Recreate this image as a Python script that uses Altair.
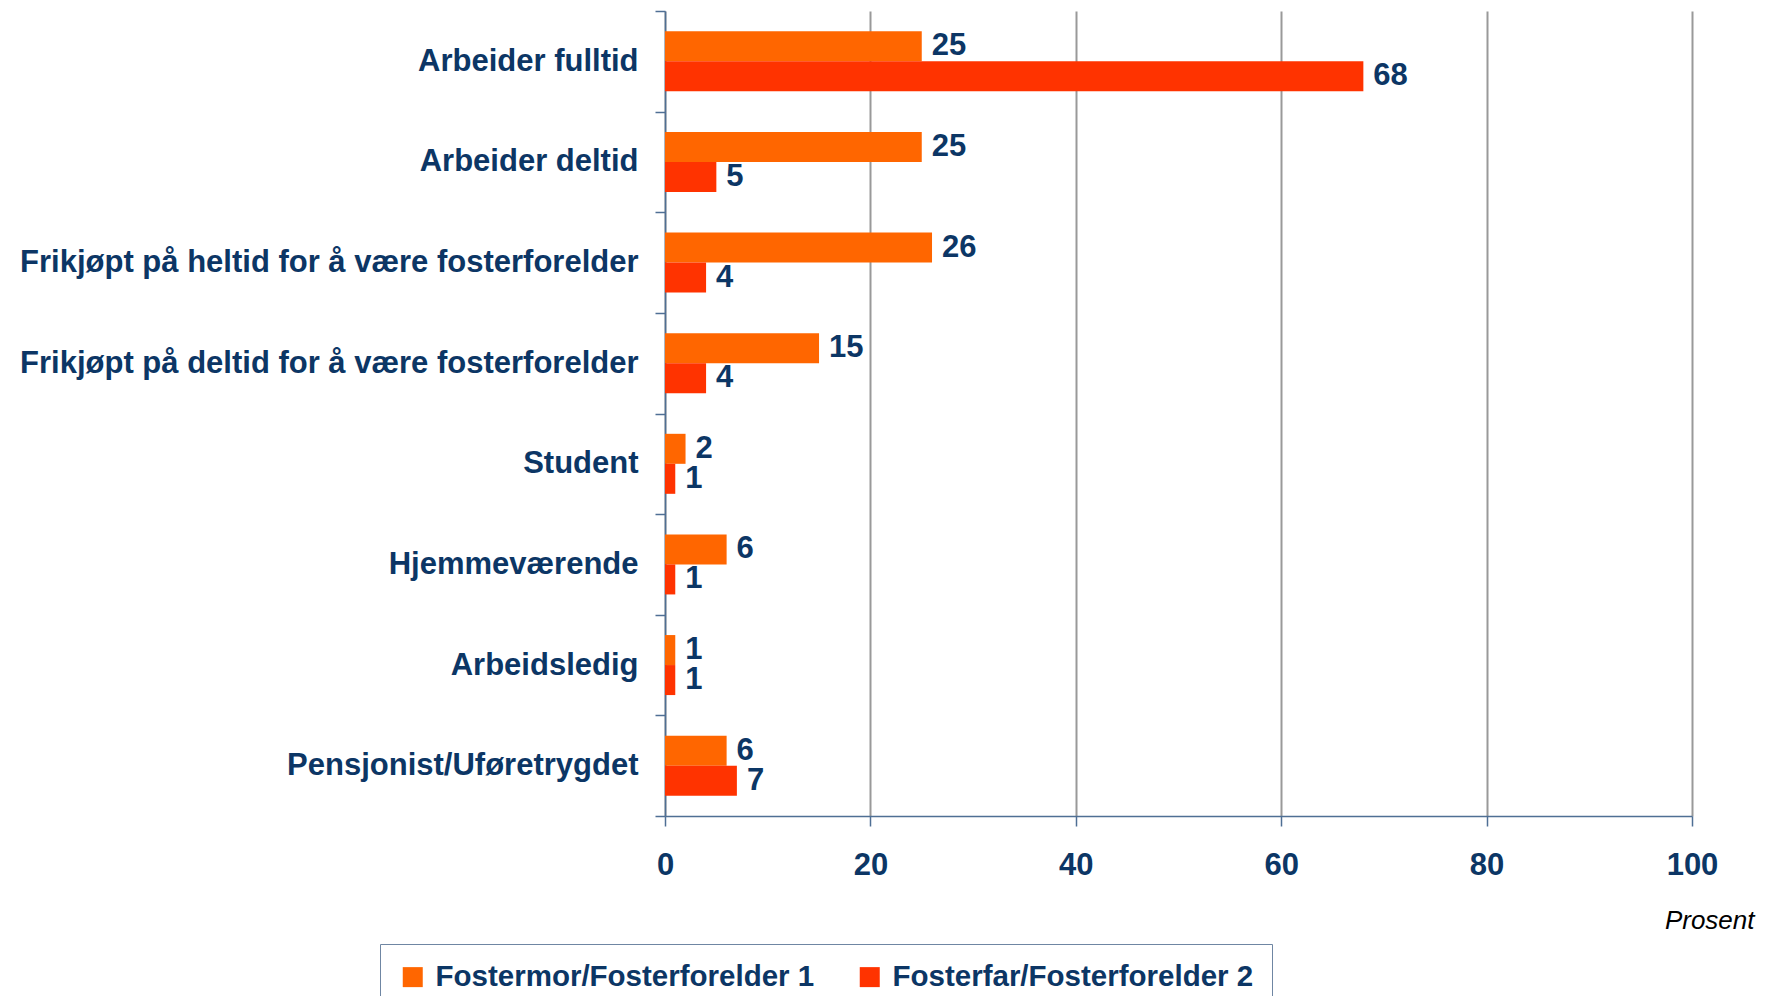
import altair as alt
import pandas as pd

categories = [
    "Arbeider fulltid",
    "Arbeider deltid",
    "Frikjøpt på heltid for å være fosterforelder",
    "Frikjøpt på deltid for å være fosterforelder",
    "Student",
    "Hjemmeværende",
    "Arbeidsledig",
    "Pensjonist/Uføretrygdet",
]
series = ["Fostermor/Fosterforelder 1", "Fosterfar/Fosterforelder 2"]
fostermor = [25, 25, 26, 15, 2, 6, 1, 6]
fosterfar = [68, 5, 4, 4, 1, 1, 1, 7]
x_ticks = [0, 20, 40, 60, 80, 100]
colors = ["#FF6600", "#FF3300"]

NAVY = "#0c3665"
AXIS = "#4f6f94"
FONT = "Liberation Sans, Arial, sans-serif"

rows = []
for c, a, b in zip(categories, fostermor, fosterfar):
    rows.append({"Kategori": c, "Serie": series[0], "Verdi": a})
    rows.append({"Kategori": c, "Serie": series[1], "Verdi": b})
df = pd.DataFrame(rows)

base = alt.Chart(df).encode(
    y=alt.Y(
        "Kategori:N",
        sort=categories,
        scale=alt.Scale(paddingInner=0, paddingOuter=0),
        axis=alt.Axis(
            title=None,
            tickBand="extent",
            tickSize=10,
            tickColor=AXIS,
            tickWidth=1.5,
            domainColor=AXIS,
            domainWidth=1.5,
            labelFont=FONT,
            labelFontSize=31,
            labelFontWeight="bold",
            labelColor=NAVY,
            labelPadding=17,
            labelLimit=0,
            grid=False,
        ),
    ),
    yOffset=alt.YOffset(
        "Serie:N", sort=series, scale=alt.Scale(paddingInner=0, paddingOuter=0.677)
    ),
    x=alt.X(
        "Verdi:Q",
        scale=alt.Scale(domain=[0, 100]),
        axis=alt.Axis(
            values=x_ticks,
            title="Prosent",
            titleFont=FONT,
            titleFontSize=26,
            titleFontStyle="italic",
            titleFontWeight="normal",
            titleColor="#000000",
            titleAlign="right",
            titleBaseline="middle",
            titleX=1089,
            titleY=104,
            grid=True,
            gridColor="#999999",
            gridWidth=2,
            tickSize=10,
            tickColor=AXIS,
            tickWidth=1.5,
            domainColor=AXIS,
            domainWidth=1.5,
            labelFont=FONT,
            labelFontSize=31,
            labelFontWeight="bold",
            labelColor=NAVY,
            labelPadding=24,
            labelFlush=False,
        ),
    ),
)

bars = base.mark_bar().encode(
    color=alt.Color(
        "Serie:N",
        sort=series,
        scale=alt.Scale(domain=series, range=colors),
        legend=alt.Legend(
            title=None,
            orient="none",
            direction="horizontal",
            legendX=-285,
            legendY=933,
            symbolType="square",
            symbolSize=400,
            symbolStrokeWidth=0,
            labelFont=FONT,
            labelFontSize=29.5,
            labelFontWeight="bold",
            labelColor=NAVY,
            labelOffset=8,
            labelLimit=0,
            columnPadding=40,
            padding=18,
            strokeColor="#6f86a3",
        ),
    )
)

labels = base.mark_text(
    align="left",
    baseline="middle",
    dx=10,
    font=FONT,
    fontSize=31,
    fontWeight="bold",
    color=NAVY,
).encode(text="Verdi:Q")

chart = (
    alt.layer(bars, labels)
    .properties(
        width=1027,
        height=805,
        autosize=alt.AutoSizeParams(type="none"),
        padding={"left": 657, "top": 3, "right": 69, "bottom": 180},
    )
    .configure_view(strokeWidth=0)
)

chart.save("out.html", embed_options={"renderer": "svg", "actions": False})
